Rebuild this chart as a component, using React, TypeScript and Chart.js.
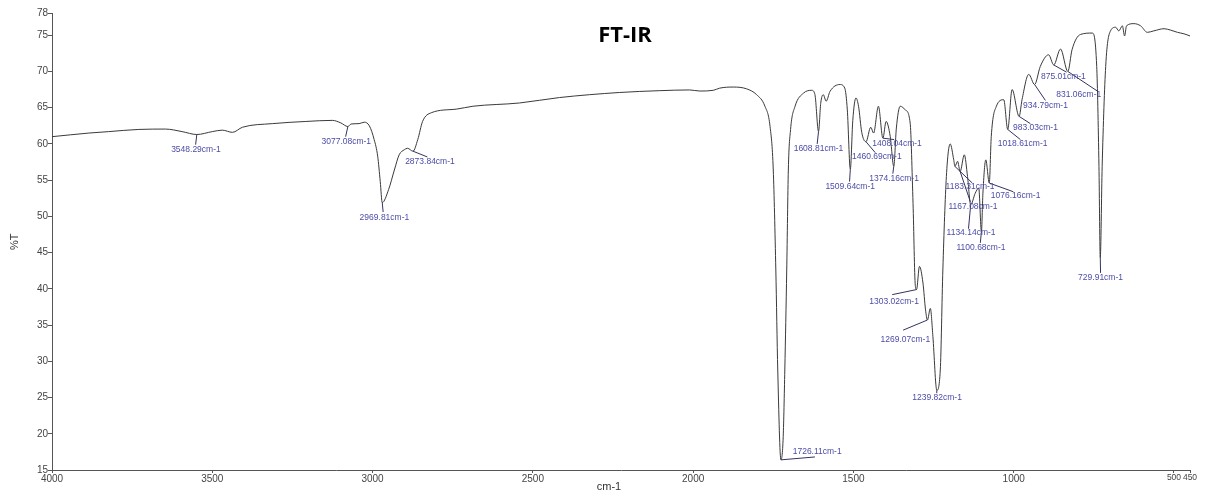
import React, { useEffect, useRef } from "react";
import { Chart, registerables } from "chart.js";

Chart.register(...registerables);

const wavenumbers = [
  4000, 3885, 3823, 3729, 3646, 3594, 3548.29, 3500, 3469, 3437, 3406, 3313, 3208, 3125, 3099, 3077.08,
  3067, 3042, 3026, 3010, 2995, 2984, 2976, 2969.81, 2950, 2932, 2917, 2901, 2891, 2873.84, 2859, 2844,
  2817, 2739, 2687, 2542, 2417, 2229, 2104, 2011, 1979, 1937, 1917, 1875, 1833, 1802, 1776, 1760, 1750,
  1742, 1736, 1726.11, 1719, 1714, 1708, 1703, 1696, 1682, 1656, 1630, 1620, 1608.81, 1602, 1594, 1585,
  1573, 1542, 1527, 1519, 1509.64, 1502, 1492, 1484, 1474, 1460.69, 1446, 1437, 1422, 1408.04, 1398, 1385,
  1374.16, 1366, 1354, 1338, 1323, 1314, 1307, 1303.02, 1294, 1283, 1275, 1269.07, 1260, 1252, 1239.82,
  1229, 1221, 1210, 1198, 1187, 1183.31, 1175, 1167.08, 1154, 1144, 1134.14, 1120, 1109, 1100.68, 1096,
  1087, 1076.16, 1070, 1054, 1031, 1018.61, 1005, 983.03, 974, 953, 934.79, 917, 891, 875.01, 854, 831.06,
  818, 792, 755, 741, 734, 729.91, 724, 713, 698, 682, 672, 661, 654, 648, 625, 604, 583, 563, 531, 510,
  489, 469, 450,
];

const transmittance = [
  61.0, 61.5, 61.7, 62.0, 62.05, 61.7, 61.3, 61.7, 61.9, 61.6, 62.3, 62.8, 63.1, 63.25, 62.9, 62.4,
  62.75, 62.8, 63.0, 62.5, 60.6, 58.3, 54.8, 51.9, 53.7, 56.4, 58.5, 59.2, 59.4, 59.0, 60.6, 63.1,
  64.3, 64.8, 65.2, 65.65, 66.4, 67.1, 67.35, 67.45, 67.3, 67.4, 67.7, 67.85, 67.6, 66.8, 65.2, 62.4, 56.4,
  42.6, 28.8, 16.4, 19.6, 28.8, 42.6, 56.4, 62.0, 65.2, 67.0, 67.4, 66.8, 61.7, 65.6, 66.8, 65.9,
  67.25, 68.2, 67.7, 64.7, 56.5, 63.2, 66.35, 65.2, 61.6, 60.3, 62.3, 61.5, 65.2, 60.8, 63.1, 61.0,
  56.9, 62.2, 65.2, 64.7, 62.9, 51.8, 40.5, 39.9, 43.1, 40.8, 37.1, 35.7, 37.3, 33.4, 26.0,
  28.8, 42.6, 55.5, 60.0, 57.8, 56.9, 57.6, 56.2, 58.5, 55.5, 51.6, 53.2, 53.9, 47.9, 53.2,
  57.8, 54.6, 61.0, 65.2, 66.1, 62.0, 67.5, 63.8, 66.1, 69.6, 68.2, 70.7, 72.3, 70.9, 73.1, 70.0,
  73.0, 75.1, 75.3, 70.7, 56.9, 44.3, 56.9, 70.7, 75.6, 76.1, 75.6, 76.3, 74.9, 76.3, 76.6, 76.3, 75.4, 75.6, 75.9, 75.7,
  75.4, 75.2, 74.9,
];

// Peak annotations
const peakLabels = [
  "3548.29cm-1", "3077.08cm-1", "2969.81cm-1", "2873.84cm-1", "1726.11cm-1", "1608.81cm-1",
  "1509.64cm-1", "1460.69cm-1", "1408.04cm-1", "1374.16cm-1", "1303.02cm-1", "1269.07cm-1",
  "1239.82cm-1", "1183.31cm-1", "1167.08cm-1", "1134.14cm-1", "1100.68cm-1", "1076.16cm-1",
  "1018.61cm-1", "983.03cm-1", "934.79cm-1", "875.01cm-1", "831.06cm-1", "729.91cm-1",
];
const peakWn = [
  3548.29, 3077.08, 2969.81, 2873.84, 1726.11, 1608.81, 1509.64, 1460.69, 1408.04, 1374.16, 1303.02,
  1269.07, 1239.82, 1183.31, 1167.08, 1134.14, 1100.68, 1076.16, 1018.61, 983.03, 934.79, 875.01,
  831.06, 729.91,
];
const peakT = [
  61.3, 62.4, 51.9, 59.0, 16.4, 61.7, 56.5, 60.3, 60.8, 56.9, 39.9, 35.7, 26.0, 56.9, 56.2, 51.6, 47.9,
  54.6, 62.0, 63.8, 68.2, 70.9, 70.0, 44.3,
];
// label text centre (data units)
const labelWn = [
  3551, 3082, 2963, 2821, 1613, 1609, 1510, 1427, 1364, 1373, 1373, 1338, 1239, 1136, 1127, 1133, 1102,
  994, 972, 932, 901, 845, 797, 729,
];
const labelT = [
  59.2, 60.35, 49.85, 57.5, 17.5, 59.3, 54.05, 58.2, 60.0, 55.15, 38.25, 33.05, 25.0, 54.05, 51.4, 47.7,
  45.7, 52.9, 60.0, 62.2, 65.3, 69.3, 66.85, 41.5,
];
// leader line end (data units)
const leaderWn = [
  3552, 3084, 2967, 2829, 1620, 1613, 1512, 1432, 1373, 1377, 1379, 1345, 1240, 1129, 1135, 1141, 1104,
  1001, 979, 948, 901, 835, 739, 729,
];
const leaderT = [
  59.9, 61.0, 50.6, 58.2, 16.8, 60.0, 54.8, 58.8, 60.6, 55.9, 39.2, 34.3, 25.6, 54.6, 52.0, 48.3, 46.35,
  53.4, 60.6, 62.8, 66.0, 69.9, 67.3, 42.2,
];

const xTicks = [4000, 3500, 3000, 2500, 2000, 1500, 1000, 500, 450];
const yTicks = [15, 20, 25, 30, 35, 40, 45, 50, 55, 60, 65, 70, 75, 78];

const titleText = "FT-IR";
const xTitle = "cm-1";
const yTitle = "%T";

const annotationPlugin = {
  id: "peakAnnotations",
  afterDatasetsDraw(chart: any) {
    const { ctx } = chart;
    const xs = chart.scales.x;
    const ys = chart.scales.y;
    ctx.save();
    ctx.lineWidth = 1;
    ctx.strokeStyle = "#33335f";
    for (let i = 0; i < peakWn.length; i++) {
      const px = xs.getPixelForValue(peakWn[i]);
      const py = ys.getPixelForValue(peakT[i]);
      const ex = xs.getPixelForValue(leaderWn[i]);
      const ey = ys.getPixelForValue(leaderT[i]);
      ctx.beginPath();
      ctx.moveTo(px, py);
      ctx.lineTo(ex, ey);
      ctx.stroke();
    }
    ctx.fillStyle = "#4c4ca8";
    ctx.font = "8.5px 'Liberation Sans', Arial, sans-serif";
    ctx.textAlign = "center";
    ctx.textBaseline = "middle";
    for (let i = 0; i < peakLabels.length; i++) {
      const lx = xs.getPixelForValue(labelWn[i]);
      const ly = ys.getPixelForValue(labelT[i]);
      ctx.fillText(peakLabels[i], lx, ly);
    }
    ctx.restore();
  },
};

const titlePlugin = {
  id: "ftirTitle",
  afterDraw(chart: any) {
    const { ctx, chartArea } = chart;
    ctx.save();
    ctx.fillStyle = "#000";
    ctx.font = "bold 22px 'Open Sans', sans-serif";
    ctx.textAlign = "center";
    ctx.textBaseline = "alphabetic";
    ctx.fillText(titleText, 625, 42);
    // x-axis title
    ctx.fillStyle = "#333";
    ctx.font = "11px 'Liberation Sans', Arial, sans-serif";
    ctx.textBaseline = "middle";
    ctx.fillText(xTitle, (chartArea.left + chartArea.right) / 2 - 12, 487);
    ctx.restore();
  },
};

export default function App() {
  const canvasRef = useRef<HTMLCanvasElement | null>(null);

  useEffect(() => {
    document.body.style.margin = "0";
    const canvas = canvasRef.current;
    if (!canvas) return;
    const points = wavenumbers.map((w, i) => ({ x: w, y: transmittance[i] }));
    const chart = new Chart(canvas, {
      type: "line",
      data: {
        datasets: [
          {
            label: "FT-IR",
            data: points,
            borderColor: "#3a3a3a",
            borderWidth: 1,
            pointRadius: 0,
            cubicInterpolationMode: "monotone",
            fill: false,
          },
        ],
      },
      options: {
        animation: false,
        responsive: false,
        maintainAspectRatio: false,
        events: [],
        layout: { padding: { left: 0, right: 29, top: 13.5, bottom: 0 } },
        plugins: {
          legend: { display: false },
          tooltip: { enabled: false },
          title: { display: false },
        },
        scales: {
          x: {
            type: "linear",
            reverse: true,
            min: 450,
            max: 4000,
            afterBuildTicks: (scale: any) => {
              scale.ticks = xTicks.map((v) => ({ value: v }));
            },
            afterFit: (scale: any) => {
              scale.height = 24;
            },
            grid: {
              drawOnChartArea: false,
              drawTicks: true,
              tickLength: 3,
              tickColor: "#555",
            },
            border: { display: true, color: "#555", width: 1 },
            ticks: {
              autoSkip: false,
              maxRotation: 0,
              padding: 0,
              color: "#444",
              font: (c: any) => ({
                size: c.tick && (c.tick.value === 500 || c.tick.value === 450) ? 8.5 : 10,
                family: "'Liberation Sans', Arial, sans-serif",
              }),
              callback: (v: any) => String(v),
            },
            title: { display: false },
          },
          y: {
            type: "linear",
            min: 15,
            max: 78,
            afterBuildTicks: (scale: any) => {
              scale.ticks = yTicks.map((v) => ({ value: v }));
            },
            afterFit: (scale: any) => {
              scale.width = 52;
            },
            grid: {
              drawOnChartArea: false,
              drawTicks: true,
              tickLength: 4,
              tickColor: "#555",
            },
            border: { display: true, color: "#555", width: 1 },
            ticks: {
              autoSkip: false,
              padding: 0,
              color: "#444",
              font: { size: 10, family: "'Liberation Sans', Arial, sans-serif" },
              callback: (v: any) => String(v),
            },
            title: {
              display: true,
              text: yTitle,
              color: "#333",
              padding: { top: 8, bottom: 0 },
              font: { size: 11, family: "'Liberation Sans', Arial, sans-serif" },
            },
          },
        },
      },
      plugins: [annotationPlugin, titlePlugin],
    });
    return () => chart.destroy();
  }, []);

  return (
    <div style={{ width: 1219, height: 494, background: "#fff" }}>
      <canvas ref={canvasRef} width={1219} height={494} style={{ display: "block" }} />
    </div>
  );
}
